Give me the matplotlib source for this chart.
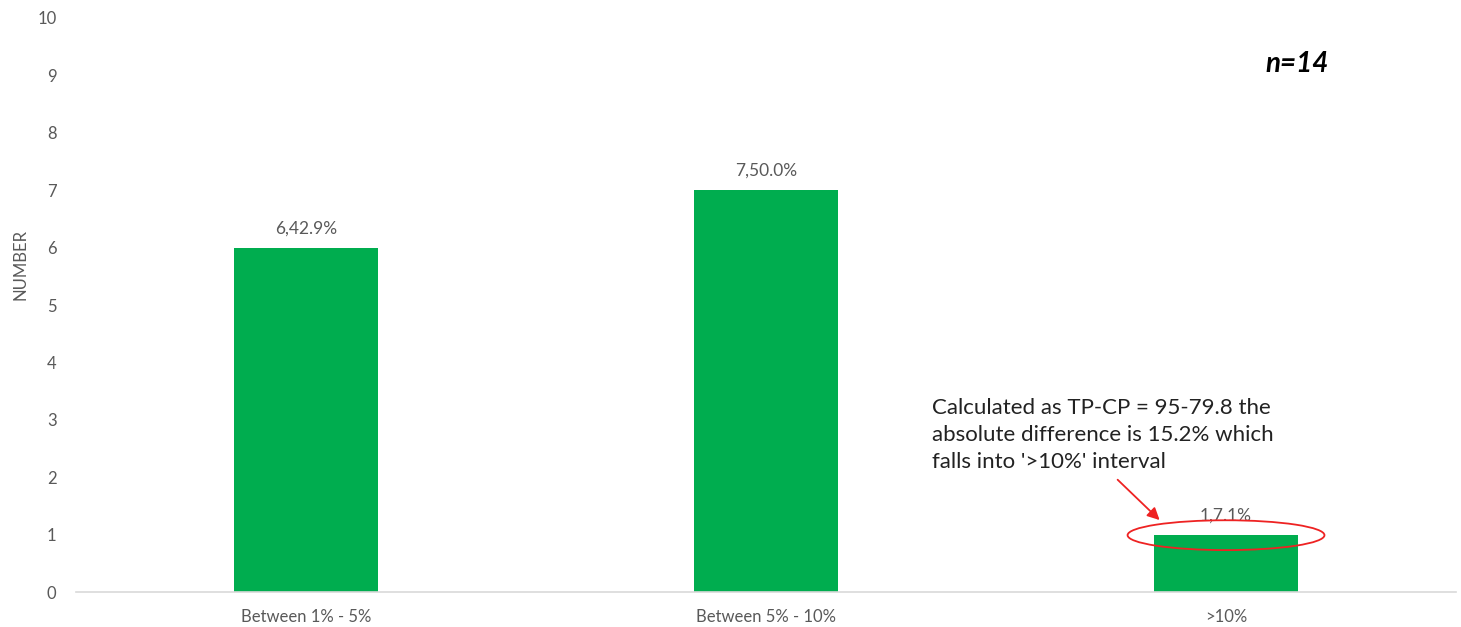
import matplotlib
matplotlib.use("Agg")
import matplotlib.pyplot as plt
from matplotlib.patches import Ellipse

categories = ["Between 1% - 5%", "Between 5% - 10%", ">10%"]
counts = [6, 7, 1]
bar_labels = ["6,42.9%", "7,50.0%", "1,7.1%"]
y_ticks = list(range(0, 11))
n_text = "n=14"
note_text = ("Calculated as TP-CP = 95-79.8 the\n"
             "absolute difference is 15.2% which\n"
             "falls into '>10%' interval")

plt.rcParams['font.family'] = ['Lato', 'DejaVu Sans']
grey = "#595959"

fig = plt.figure(figsize=(14.61, 6.27), dpi=100)
ax = fig.add_axes([0.052, 0.0558, 0.9446, 0.9155])

x = list(range(len(categories)))
bars = ax.bar(x, counts, width=0.313, color="#00AD4F", zorder=2)
ax.set_xlim(-0.5, len(categories) - 0.5)
ax.set_ylim(0, 10)
ax.set_yticks(y_ticks)
ax.set_xticks(x)
ax.set_xticklabels(categories)
ax.tick_params(axis='both', length=0, colors=grey, labelsize=12)
ax.tick_params(axis='y', pad=14)
ax.tick_params(axis='x', pad=12)
for s in ["top", "right", "left"]:
    ax.spines[s].set_visible(False)
ax.spines["bottom"].set_color("#d9d9d9")
ax.spines["bottom"].set_linewidth(1.2)

for xi, c, lab in zip(x, counts, bar_labels):
    ax.annotate(lab, (xi, c), xytext=(0, 8), textcoords="offset points",
                ha="center", va="bottom", fontsize=12.5, color=grey)

fig.text(0.014, 1 - 265 / 627, "NUMBER", rotation=90, ha="center", va="center",
         fontsize=12, color=grey)

ax.text(0.885, 0.92, n_text, transform=ax.transAxes, fontsize=20,
        fontweight="bold", fontstyle="italic", ha="center", va="center",
        color="black")

ax.text(1.36, 3.38, note_text, fontsize=16, ha="left", va="top",
        color="#222222", linespacing=1.45)

ell = Ellipse((2.0, 0.99), width=0.428, height=0.52, fill=False,
              edgecolor="#ee2222", linewidth=1.3, zorder=3)
ax.add_patch(ell)
ax.annotate("", xy=(1.86, 1.22), xytext=(1.76, 1.99),
            arrowprops=dict(arrowstyle="-|>", color="#ee2222", lw=1.3,
                            mutation_scale=18))

fig.savefig("out.png", dpi=100, facecolor="white")
